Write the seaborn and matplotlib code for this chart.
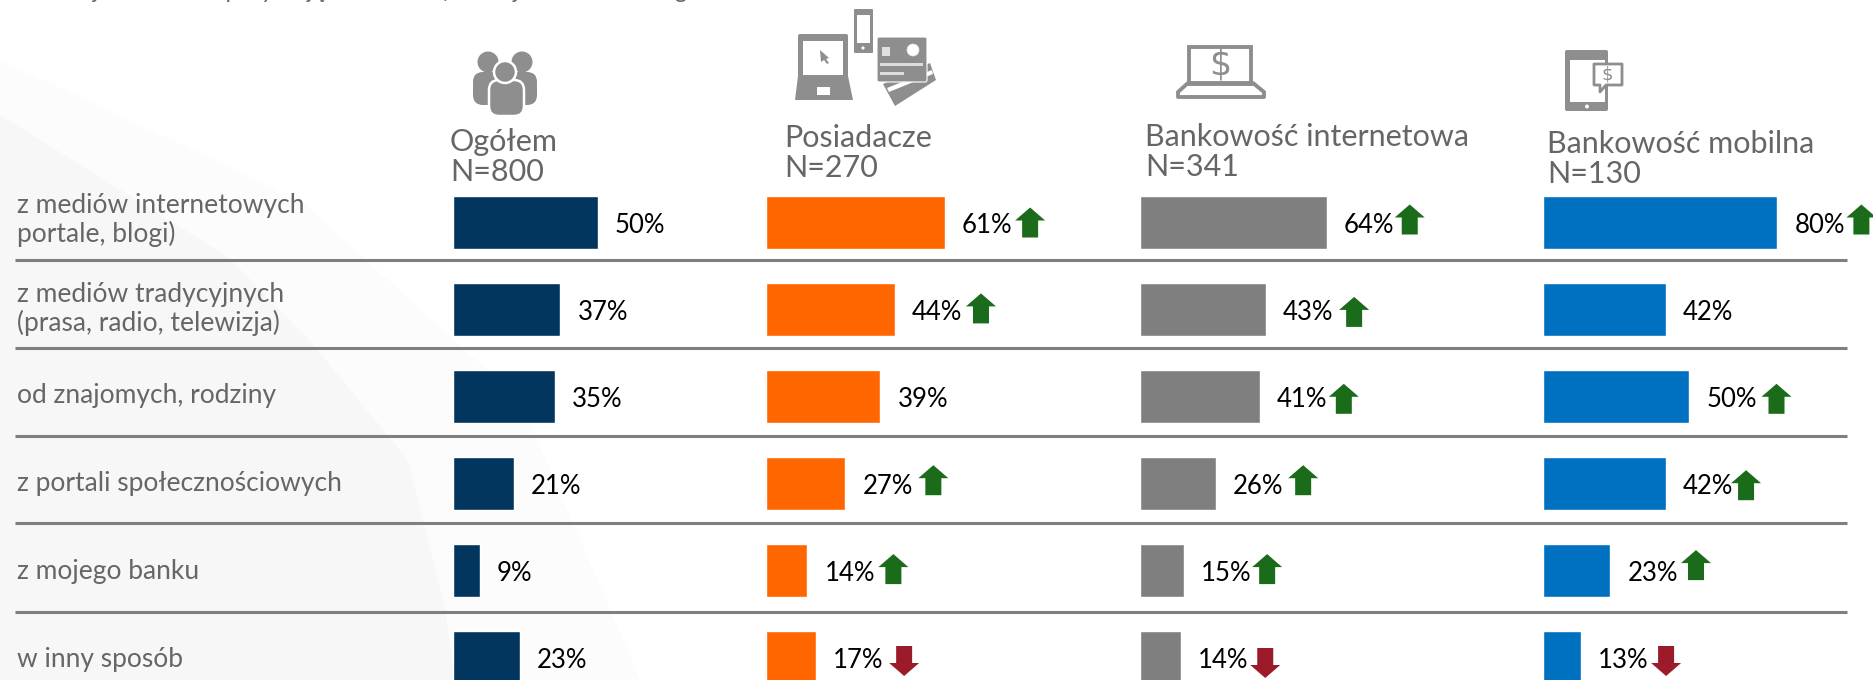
import matplotlib
matplotlib.use('Agg')
import matplotlib.pyplot as plt
import pandas as pd
import seaborn as sns
from matplotlib.patches import Circle, FancyBboxPatch, Polygon, Rectangle
from matplotlib.transforms import IdentityTransform

# wartosci
rows = ['z mediów internetowych\nportale, blogi)', 'z mediów tradycyjnych\n(prasa, radio, telewizja)',
        'od znajomych, rodziny', 'z portali społecznościowych', 'z mojego banku', 'w inny sposób']
headers = ['Ogółem\nN=800', 'Posiadacze\nN=270', 'Bankowość internetowa\nN=341', 'Bankowość mobilna\nN=130']
ogolem = [50, 37, 35, 21, 9, 23]
posiadacze = [61, 44, 39, 27, 14, 17]
internetowa = [64, 43, 41, 26, 15, 14]
mobilna = [80, 42, 50, 42, 23, 13]
colors = ['#03365E', '#FF6600', '#7F7F7F', '#0070C0']

# 1 = strzalka w gore, -1 = w dol, 0 = brak
arrows_ogolem = [0, 0, 0, 0, 0, 0]
arrows_posiadacze = [1, 1, 0, 1, 1, -1]
arrows_internetowa = [1, 1, 1, 1, 1, -1]
arrows_mobilna = [1, 0, 1, 1, 1, -1]

W, H = 1874, 680
sns.set_theme(style='white')
plt.rcParams['font.family'] = ['Lato', 'DejaVu Sans']
fig = plt.figure(figsize=(W / 100, H / 100), dpi=100, facecolor='white')

# warstwa tla w pikselach
bg = fig.add_axes([0, 0, 1, 1], zorder=0)
bg.set_xlim(0, W)
bg.set_ylim(H, 0)
bg.axis('off')
bg.add_patch(Polygon([(0, 60), (300, 200), (520, 400), (640, 680), (0, 680)], color='#FCFCFC', lw=0))
bg.add_patch(Polygon([(0, 115), (228, 257), (309, 340), (408, 460), (445, 610), (455, 680), (0, 680)],
                     color='#F7F7F7', lw=0))

for y in [260, 348, 436, 523, 612]:
    bg.plot([15, 1847], [y, y], color='#7F7F7F', lw=2.2, solid_capstyle='butt')

TEXT = '#666666'
for label, y in zip(rows, [220, 309, 396, 484, 572, 659]):
    bg.text(17, y, label, color=TEXT, fontsize=19, va='center', ha='left', linespacing=1.14)

bg.text(75, -8.5, 'Z jakich źródeł pozyskują Państwo informacje na temat usług bankowości?',
        color=TEXT, fontsize=17.5, style='italic', va='center', ha='left')

header_pos = [(450, 157), (784, 153), (1145, 152), (1547, 159)]
for label, (x, y) in zip(headers, header_pos):
    bg.text(x, y, label, color=TEXT, fontsize=22, va='center', ha='left', linespacing=1.12)

# ikony
ICON = '#8E8E8E'


def person(cx, head_y, r, x0, x1, y0, y1, edge=None):
    bg.add_patch(FancyBboxPatch((x0 + 10, y0 + 10), x1 - x0 - 20, y1 - y0 - 12, boxstyle='round,pad=10',
                                fc=ICON, ec=edge or ICON, lw=1.8 if edge else 0))
    if r:
        bg.add_patch(Circle((cx, head_y), r, fc=ICON, ec=edge or ICON, lw=1.8 if edge else 0))


person(488, 62, 10.5, 473, 505, 72, 97)
person(522, 62, 10.5, 505, 537, 72, 97)
person(506, 0, 0, 489, 524, 80, 108, edge='white')
bg.add_patch(Circle((505, 72), 11, fc=ICON, ec='white', lw=1.8))

bg.add_patch(FancyBboxPatch((800, 36), 46, 42, boxstyle='round,pad=2', fc=ICON, lw=0))
bg.add_patch(Polygon([(798, 76), (848, 76), (853, 100), (795, 100)], color=ICON, lw=0))
bg.add_patch(Rectangle((803, 41), 40, 34, color='white', lw=0))
bg.add_patch(Rectangle((817, 87), 13, 8, color='white', lw=0))
bg.add_patch(Polygon([(820, 50), (829, 58), (826, 59), (829, 63), (827, 64), (824, 60), (821, 62)], color=ICON, lw=0))
bg.add_patch(FancyBboxPatch((855, 10), 17, 42, boxstyle='round,pad=1', fc=ICON, lw=0))
bg.add_patch(Rectangle((857, 15), 13, 28, color='white', lw=0))
bg.add_patch(Circle((863, 48), 1.6, color='white', lw=0))
bg.add_patch(Polygon([(883, 84), (930, 63), (936, 80), (895, 106)], color=ICON, lw=0))
bg.add_patch(Polygon([(887, 88), (932, 70), (933, 74), (889, 92)], color='white', lw=0))
bg.add_patch(FancyBboxPatch((879, 39), 46, 41, boxstyle='round,pad=2', fc=ICON, ec='white', lw=0.8))
bg.add_patch(Circle((913, 50), 6, fc='white', ec='#E8E8E8', lw=0.5))
bg.add_patch(Rectangle((882, 47), 8, 9, color='#E0E0E0', lw=0))
bg.add_patch(Rectangle((880, 63), 43, 2.5, color='#DDDDDD', lw=0))
bg.add_patch(Rectangle((880, 72), 24, 2.5, color='#DDDDDD', lw=0))

bg.add_patch(Rectangle((1189.5, 46.5), 62, 37, fc='none', ec=ICON, lw=2.8))
bg.add_patch(Polygon([(1188, 83), (1253, 83), (1264, 92), (1264, 97), (1178, 97), (1178, 92)],
                     fc='none', ec=ICON, lw=2.8, joinstyle='round'))
bg.text(1220, 65, '$', color=ICON, fontsize=25, ha='center', va='center', family='DejaVu Sans')

bg.add_patch(FancyBboxPatch((1567, 52), 39, 57, boxstyle='round,pad=2', fc=ICON, lw=0))
bg.add_patch(Rectangle((1570, 60), 35, 42, color='white', lw=0))
bg.add_patch(Circle((1587, 106.5), 2, color='white', lw=0))
bg.add_patch(Polygon([(1594, 64), (1622, 64), (1622, 85), (1606, 85), (1600, 92), (1600, 85), (1594, 85)],
                     fc='white', ec=ICON, lw=2, joinstyle='round'))
bg.text(1607, 74, '$', color=ICON, fontsize=13, ha='center', va='center', family='DejaVu Sans')

# slupki: jedna os na kolumne, wiersze co 87 px, srodek pierwszego na y=223
columns = [
    (ogolem, arrows_ogolem, 453.5, 2.89),
    (posiadacze, arrows_posiadacze, 766.5, 2.92),
    (internetowa, arrows_internetowa, 1140.5, 2.91),
    (mobilna, arrows_mobilna, 1543, 2.93),
]
# korekty strzalek w px: odleglosc od konca slupka, przesuniecie w pionie (y w dol)
arrow_dx = [None,
            [85.5, 86, 0, 88, 86, 88],
            [83, 88.5, 84, 87, 83, 84],
            [84, 0, 87, 80, 85.6, 85]]
arrow_dy = [None,
            [0, -1, 0, -3, -1, 4],
            [-3, 2.5, 2.5, -3, -1, 6],
            [-3, 0, 2.5, 2, -5, 4]]


def arrow_shape(cx, cy, sign):
    # wierzcholki w pikselach ekranu (y w gore)
    pts = [(0, 15), (15, 2), (8, 2), (8, -15), (-8, -15), (-8, 2), (-15, 2)]
    return [(cx + px, cy + sign * py) for px, py in pts]


for c, (vals, marks, left, per) in enumerate(columns):
    ax = fig.add_axes([left / W, 0, per * 100 / W, 1], zorder=2)
    ax.patch.set_alpha(0)
    df = pd.DataFrame({'row': rows, 'value': vals})
    sns.barplot(data=df, x='value', y='row', color=colors[c], saturation=1, width=53 / 87, orient='h', ax=ax)
    ax.set_xlim(0, 100)
    ax.set_ylim((H - 222.5) / 86.9, -222.5 / 86.9)
    ax.axis('off')
    for i, (v, m) in enumerate(zip(vals, marks)):
        ax.annotate(f'{v}%', (v, i), xytext=(17 * 0.72, -2.2), textcoords='offset points', color='black',
                    fontsize=18.5, va='center', ha='left', annotation_clip=False)
        if m:
            px, py = ax.transData.transform((v, i))
            shape = arrow_shape(px + arrow_dx[c][i], py - arrow_dy[c][i], m)
            fig.add_artist(Polygon(shape, closed=True, transform=IdentityTransform(), lw=0, zorder=5,
                                   color='#1A6B1A' if m > 0 else '#9B1B2A'))

fig.savefig('out.png', dpi=100, facecolor='white')
